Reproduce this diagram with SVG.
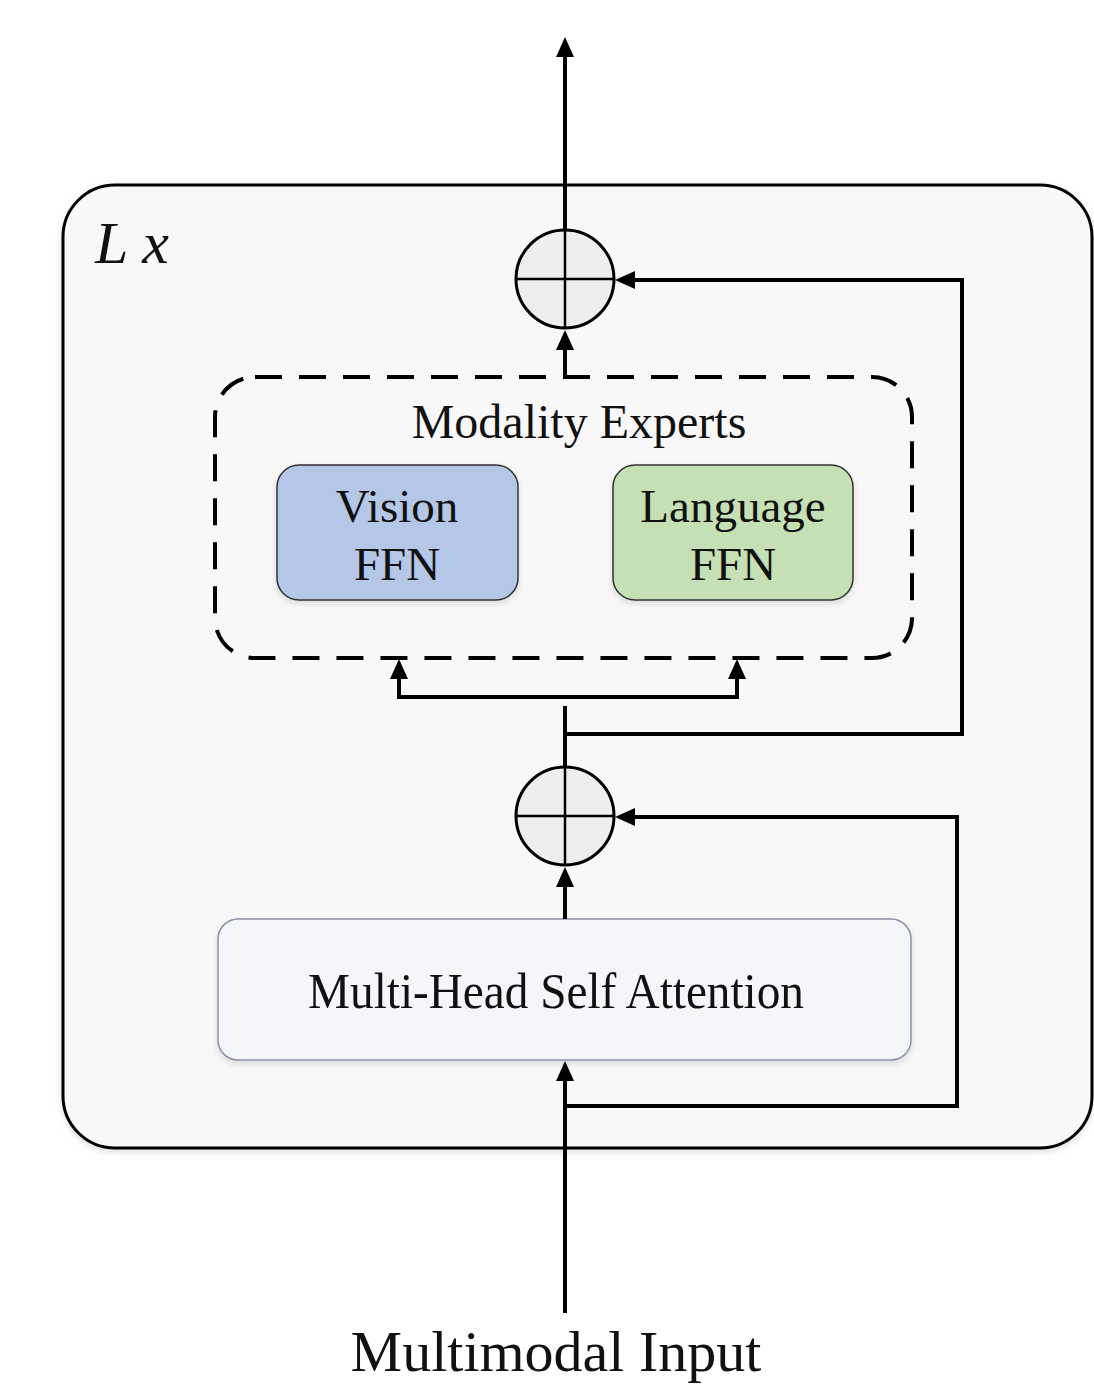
<svg xmlns="http://www.w3.org/2000/svg" width="1094" height="1385" viewBox="0 0 1094 1385">
  <style>
    .serif { font-family: "Liberation Serif", "Times New Roman", serif; fill: #111; }
    .wire { fill: none; stroke: #000; stroke-width: 4; stroke-linejoin: miter; }
    .sum circle { fill: #eeeeee; stroke: #000; stroke-width: 3; }
    .sum line { stroke: #000; stroke-width: 2.5; }
    .ffn { stroke: #333; stroke-width: 1.5; }
  </style>
  <defs>
    <marker id="head" viewBox="0 0 20 18" refX="8" refY="9" markerWidth="20" markerHeight="18" markerUnits="userSpaceOnUse" orient="auto">
      <path d="M0,0 L20,9 L0,18 z" fill="#000"/>
    </marker>
    <filter id="soft" x="-5%" y="-5%" width="110%" height="110%">
      <feDropShadow dx="0" dy="3" stdDeviation="3" flood-color="#000" flood-opacity="0.12"/>
    </filter>
  </defs>

  <rect width="1094" height="1385" fill="#fff"/>

  <!-- repeated layer block -->
  <g id="layer-block">
    <rect x="63" y="185" width="1029" height="963" rx="52" fill="#f8f8f8" stroke="#000" stroke-width="3" filter="url(#soft)"/>
    <text class="serif" x="95" y="263" font-size="60" font-style="italic">L x</text>
  </g>

  <!-- expert group -->
  <g id="modality-experts">
    <rect x="215" y="377" width="697" height="281" rx="40" fill="none" stroke="#000" stroke-width="4" stroke-dasharray="27 17"/>
    <text class="serif" x="579" y="438" font-size="48" text-anchor="middle">Modality Experts</text>
  </g>

  <g id="vision-ffn">
    <rect class="ffn" x="277" y="465" width="241" height="135" rx="22" fill="#b4c7e7" filter="url(#soft)"/>
    <text class="serif" x="397" y="522" font-size="47" text-anchor="middle">Vision</text>
    <text class="serif" x="397" y="580" font-size="47" text-anchor="middle">FFN</text>
  </g>

  <g id="language-ffn">
    <rect class="ffn" x="613" y="465" width="240" height="135" rx="22" fill="#c5e0b4" filter="url(#soft)"/>
    <text class="serif" x="733" y="522" font-size="47" text-anchor="middle">Language</text>
    <text class="serif" x="733" y="580" font-size="47" text-anchor="middle">FFN</text>
  </g>

  <g id="self-attention">
    <rect x="218" y="919" width="693" height="141" rx="20" fill="#f5f6fa" stroke="#8c90a8" stroke-width="1.5" filter="url(#soft)"/>
    <text class="serif" x="556" y="1008" font-size="50" text-anchor="middle" textLength="496" lengthAdjust="spacingAndGlyphs">Multi-Head Self Attention</text>
  </g>

  <g id="add-upper" class="sum">
    <circle cx="565" cy="279" r="49"/>
    <line x1="516" y1="279" x2="614" y2="279"/>
    <line x1="565" y1="230" x2="565" y2="328"/>
  </g>

  <g id="add-lower" class="sum">
    <circle cx="565" cy="816" r="49"/>
    <line x1="516" y1="816" x2="614" y2="816"/>
    <line x1="565" y1="767" x2="565" y2="865"/>
  </g>

  <g id="input-label">
    <text class="serif" x="556" y="1371" font-size="58" text-anchor="middle">Multimodal Input</text>
  </g>

  <!-- connectors -->
  <g id="connectors">
    <path class="wire" d="M565,230 V49" marker-end="url(#head)"/>
    <path class="wire" d="M565,377 V342" marker-end="url(#head)"/>
    <path class="wire" d="M565,734 H962 V280 H627" marker-end="url(#head)"/>
    <path class="wire" d="M565,767 V706"/>
    <path class="wire" d="M567,697 H399 V671" marker-end="url(#head)"/>
    <path class="wire" d="M565,697 H737 V671" marker-end="url(#head)"/>
    <path class="wire" d="M565,919 V879" marker-end="url(#head)"/>
    <path class="wire" d="M565,1106 H957 V817 H627" marker-end="url(#head)"/>
    <path class="wire" d="M565,1313 V1073" marker-end="url(#head)"/>
  </g>
</svg>
